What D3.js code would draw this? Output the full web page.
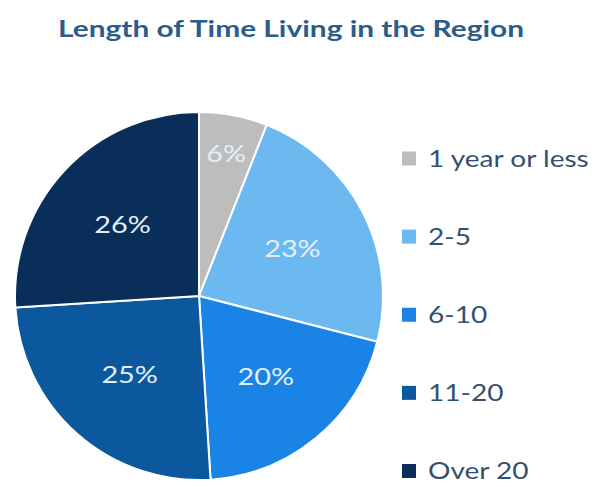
<!DOCTYPE html>
<html><head><meta charset="utf-8">
<script src="https://cdn.jsdelivr.net/npm/d3@7"></script>
<style>body{margin:0;background:#fff;}svg{display:block;font-family:Lato,"Open Sans",sans-serif;}</style>
</head><body>
<svg id="chart" width="611" height="487"></svg>
<script>
const title = "Length of Time Living in the Region";
const categories = ["1 year or less", "2-5", "6-10", "11-20", "Over 20"];
const values = [6, 23, 20, 25, 26];
const colors = ["#bdbdbd", "#6cb9f2", "#1a84e6", "#0c589e", "#0a2e5a"];

const svg = d3.select("#chart");
const cx = 199, cy = 296, R = 184;

svg.append("text").attr("x", 291).attr("y", 37).attr("text-anchor", "middle")
  .attr("font-size", 23).attr("font-weight", "bold").attr("fill", "#2c5c88")
  .attr("textLength", 466).attr("lengthAdjust", "spacingAndGlyphs")
  .text(title);

const pie = d3.pie().sort(null).value(d => d)(values);
const arc = d3.arc().innerRadius(0).outerRadius(R);
const g = svg.append("g").attr("transform", `translate(${cx},${cy})`);
g.selectAll("path").data(pie).join("path")
  .attr("d", arc).attr("fill", (d, i) => colors[i])
  .attr("stroke", "#fff").attr("stroke-width", 2).attr("stroke-linejoin", "round");

const total = d3.sum(values);
g.selectAll("text.lbl").data(pie).join("text").attr("class", "lbl")
  .attr("transform", d => {
    const rr = (d.value / total < 0.1) ? R * 0.79 : R * 0.57;
    const a = (d.startAngle + d.endAngle) / 2;
    return `translate(${rr * Math.sin(a)},${-rr * Math.cos(a)}) scale(1.2,1)`;
  })
  .attr("text-anchor", "middle").attr("dy", "0.35em")
  .attr("font-size", 24).attr("fill", "#e6eef7")
  .text(d => Math.round(d.value / total * 100) + "%");

const legY = d3.scalePoint().domain(categories).range([158.5, 471]);
const leg = svg.append("g");
const items = leg.selectAll("g").data(categories).join("g")
  .attr("transform", d => `translate(402,${legY(d)})`);
items.append("rect").attr("x", 0).attr("y", -7).attr("width", 14).attr("height", 14)
  .attr("fill", (d, i) => colors[i]);
items.append("text").attr("transform", "translate(26,0) scale(1.22,1)").attr("dy", "0.36em")
  .attr("font-size", 23).attr("fill", "#34506e").text(d => d);
</script>
</body></html>
